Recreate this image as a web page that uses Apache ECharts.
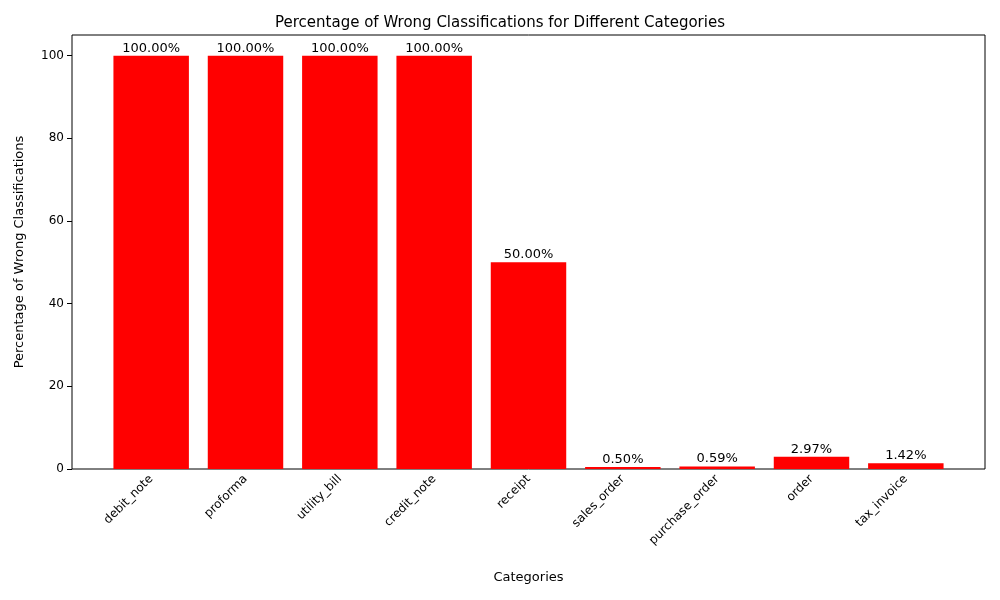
<!DOCTYPE html>
<html>
<head>
<meta charset="UTF-8">
<script src="https://cdn.jsdelivr.net/npm/echarts@6/dist/echarts.min.js"></script>
<style>html,body{margin:0}#c{width:1000px;height:600px}</style>
</head>
<body>
<div id="c"></div>
<script>
var categories = ['debit_note', 'proforma', 'utility_bill', 'credit_note', 'receipt', 'sales_order', 'purchase_order', 'order', 'tax_invoice'];
var wrongPct = [100, 100, 100, 100, 50, 0.50, 0.59, 2.97, 1.42];
var yTicks = [0, 20, 40, 60, 80, 100];

var font = 'DejaVu Sans';
var chart = echarts.init(document.getElementById('c'));
chart.setOption({
    animation: false,
    textStyle: { fontFamily: font },
    title: {
        text: 'Percentage of Wrong Classifications for Different Categories',
        left: 'center', top: 11,
        textStyle: { fontFamily: font, fontSize: 15, fontWeight: 'normal', color: '#000' }
    },
    grid: [
        { left: 72, right: 15, top: 35, bottom: 131, show: true, borderColor: '#000', borderWidth: 1 },
        { left: 104, right: 47, top: 35, bottom: 131 }
    ],
    xAxis: [
        { gridIndex: 0, type: 'value', show: false, min: 0, max: 1 },
        {
            gridIndex: 1, type: 'category', data: categories,
            axisLine: { show: false },
            axisTick: { alignWithLabel: true, length: 5, lineStyle: { color: '#000' } },
            axisLabel: { rotate: 45, color: '#000', fontSize: 12, margin: 8, interval: 0 },
            name: 'Categories', nameLocation: 'middle', nameGap: 102,
            nameTextStyle: { color: '#000', fontSize: 13 }
        }
    ],
    yAxis: [
        {
            gridIndex: 0, type: 'value', min: 0, max: 105, interval: 20,
            axisLine: { show: false },
            axisTick: { show: true, length: 5, lineStyle: { color: '#000' } },
            axisLabel: { color: '#000', fontSize: 12, showMaxLabel: false,
                formatter: function (v) { return yTicks.indexOf(v) >= 0 ? v : ''; } },
            splitLine: { show: false },
            name: 'Percentage of Wrong Classifications', nameLocation: 'middle', nameGap: 46,
            nameTextStyle: { color: '#000', fontSize: 13 }
        },
        { gridIndex: 1, type: 'value', min: 0, max: 105, show: false }
    ],
    series: [{
        type: 'bar', xAxisIndex: 1, yAxisIndex: 1,
        data: wrongPct, barWidth: '80%',
        itemStyle: { color: '#ff0000' },
        label: {
            show: true, position: 'top', distance: 1, color: '#000', fontSize: 13,
            formatter: function (p) { return p.value.toFixed(2) + '%'; }
        }
    }]
});
</script>
</body>
</html>
